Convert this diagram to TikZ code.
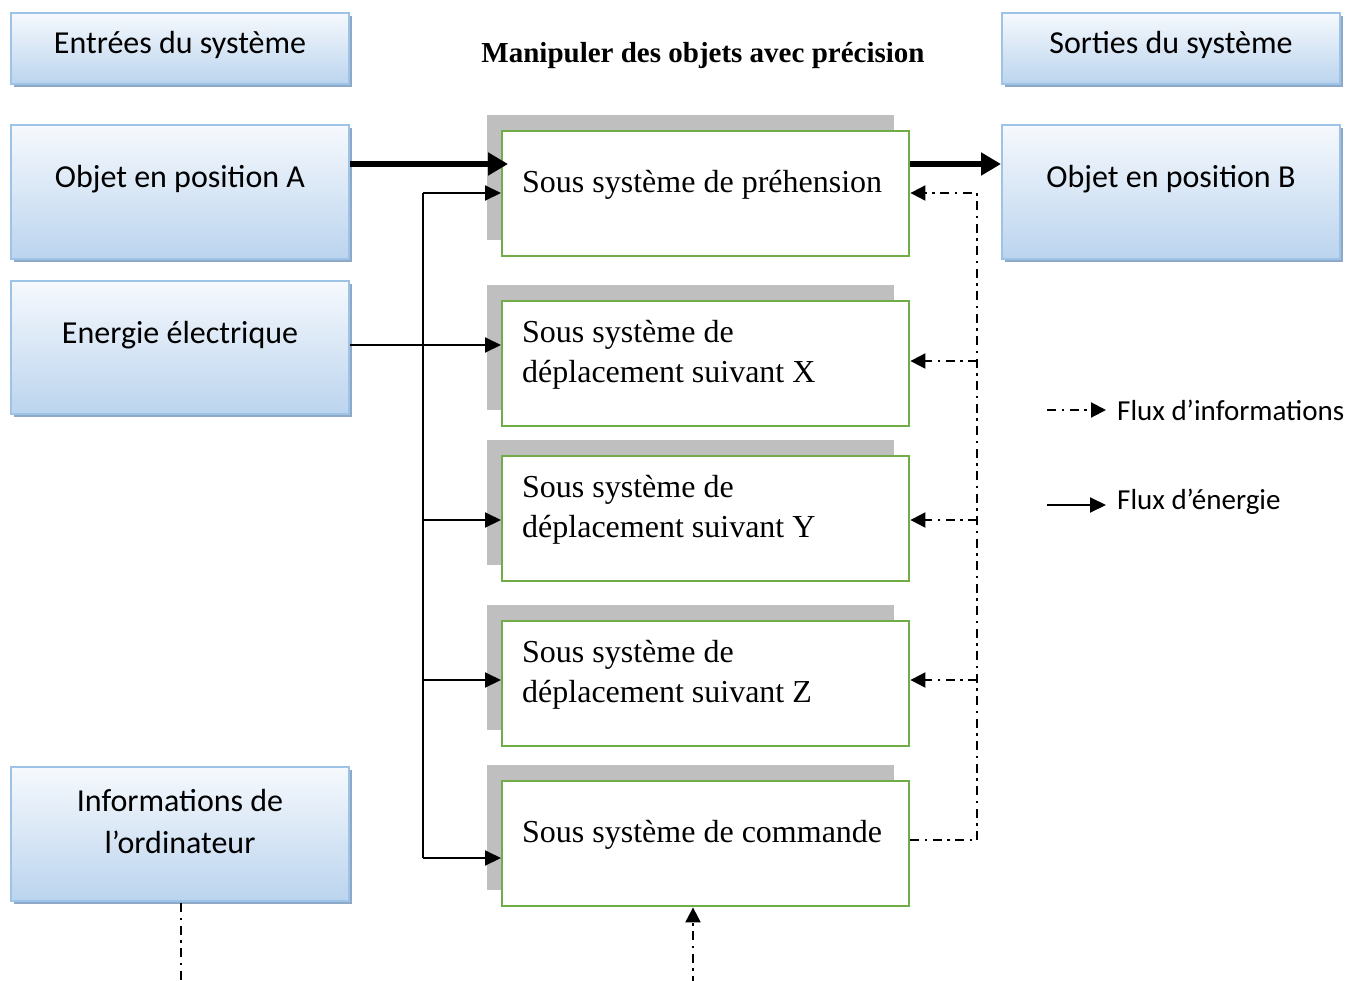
\documentclass[tikz,border=0pt]{standalone}
\usepackage{fontspec}
\setmainfont{Liberation Serif}
\newfontfamily\calib{Carlito}
\usetikzlibrary{arrows.meta,shadows}
\definecolor{bluetop}{HTML}{F6F9FD}
\definecolor{bluebot}{HTML}{BBD4EE}
\definecolor{blueborder}{HTML}{9DC3E6}
\definecolor{blueshadow}{HTML}{8EA9C8}
\definecolor{greenb}{HTML}{70AD47}
\definecolor{grayshadow}{HTML}{BFBFBF}
\tikzset{
  bluebox/.style={draw=blueborder, line width=2pt, top color=bluetop, bottom color=bluebot,
    minimum width=338pt, anchor=north west, inner sep=0pt,
    drop shadow={shadow xshift=3pt, shadow yshift=-3pt, fill=blueshadow, opacity=1}},
  bluetxt/.style={font=\calib\fontsize{32}{42}\selectfont, align=center, inner sep=0pt},
  greenbox/.style={draw=greenb, line width=2.4pt, fill=white, minimum width=407pt, minimum height=125pt,
    anchor=north west, inner sep=0pt,
    drop shadow={shadow xshift=-15pt, shadow yshift=16pt, fill=grayshadow, opacity=1}},
  greentxt/.style={font=\fontsize{32}{40}\selectfont, align=left, inner sep=0pt, anchor=west},
  energy/.style={line width=2pt, -{Triangle[length=16pt,width=15pt]}},
  bigflow/.style={line width=6.5pt, -{Triangle[length=20pt,width=22pt]}},
  info/.style={line width=2.1pt, dash pattern=on 9pt off 5.5pt on 2.5pt off 5.5pt},
  infoarrow/.style={info, -{Triangle[length=15pt,width=15pt]}},
  legtxt/.style={font=\calib\fontsize{29}{34}\selectfont, anchor=west, inner sep=0pt}
}
\begin{document}
\begin{tikzpicture}[x=1pt,y=-1pt]
\useasboundingbox (0,0) rectangle (1365,980);
% blue boxes
\node[bluebox, minimum height=71pt] (bIn) at (10,12) {};
\node[bluetxt] (tIn) at ([yshift=4pt]bIn.center) {Entrées du système};
\node[bluebox, minimum height=71pt] (bOut) at (1001,12) {};
\node[bluetxt] (tOut) at ([yshift=4pt]bOut.center) {Sorties du système};
\node[bluebox, minimum height=134pt] (bA) at (10,124) {};
\node[bluetxt] (tA) at ([yshift=13pt]bA.center) {Objet en position A};
\node[bluebox, minimum height=134pt] (bB) at (1001,124) {};
\node[bluetxt] (tB) at ([yshift=13pt]bB.center) {Objet en position B};
\node[bluebox, minimum height=133pt] (bE) at (10,280) {};
\node[bluetxt] (tE) at ([yshift=12pt]bE.center) {Energie électrique};
\node[bluebox, minimum height=134pt] (bI) at (10,766) {};
\node[bluetxt] (tI) at ([yshift=13pt]bI.center) {Informations de\\l’ordinateur};
% title
\node[font=\bfseries\fontsize{29}{34}\selectfont, inner sep=0pt] (title) at (703,56) {Manipuler des objets avec précision};
% green boxes
\node[greenbox] (g1) at (501,130) {};
\node[greentxt] (t1) at ([xshift=21pt,yshift=-55pt]g1.north west) {Sous système de préhension};
\node[greenbox] (g2) at (501,300) {};
\node[greentxt] (t2) at ([xshift=21pt,yshift=-55pt]g2.north west) {Sous système de\\déplacement suivant X};
\node[greenbox] (g3) at (501,455) {};
\node[greentxt] (t3) at ([xshift=21pt,yshift=-55pt]g3.north west) {Sous système de\\déplacement suivant Y};
\node[greenbox] (g4) at (501,620) {};
\node[greentxt] (t4) at ([xshift=21pt,yshift=-55pt]g4.north west) {Sous système de\\déplacement suivant Z};
\node[greenbox] (g5) at (501,780) {};
\node[greentxt] (t5) at ([xshift=21pt,yshift=-55pt]g5.north west) {Sous système de commande};
% big flows
\draw[bigflow] (bA.east |- 0,164) -- ([xshift=7pt]g1.west |- 0,164);
\draw[bigflow] (g1.east |- 0,164) -- (bB.west |- 0,164);
% energy
\coordinate (busTop) at (423,193);
\coordinate (busBot) at (423,858);
\draw[energy] (bE.east |- 0,345) -- (g2.west |- 0,345);
\draw[line width=2pt] (busTop) -- (busBot);
\draw[energy] (busTop) -- (g1.west |- busTop);
\draw[energy] (423,520) -- (g3.west |- 0,520);
\draw[energy] (423,680) -- (g4.west |- 0,680);
\draw[energy] (busBot) -- (g5.west |- busBot);
% information
\coordinate (iTop) at (977,193);
\coordinate (iBot) at (977,840);
\draw[infoarrow] (iBot) -- (iTop) -- (g1.east |- iTop);
\draw[infoarrow] (977,361) -- (g2.east |- 0,361);
\draw[infoarrow] (977,520) -- (g3.east |- 0,520);
\draw[infoarrow] (977,680) -- (g4.east |- 0,680);
\draw[info] (g5.east |- iBot) -- (iBot);
\coordinate (iOut) at (181,985);
\draw[info] (181,903) -- (iOut);
\coordinate (cmdIn) at (693,985);
\draw[infoarrow] (cmdIn) -- (g5.south -| cmdIn);
% legend
\coordinate (l1a) at (1047,410);
\coordinate (l1b) at (1106,410);
\draw[infoarrow] (l1a) -- (l1b);
\node[legtxt] (lt1) at (1117,410) {Flux d’informations};
\coordinate (l2a) at (1047,505);
\coordinate (l2b) at (1106,505);
\draw[energy] (l2a) -- (l2b);
\node[legtxt] (lt2) at (1117,502) {Flux d’énergie};
\end{tikzpicture}
\end{document}
